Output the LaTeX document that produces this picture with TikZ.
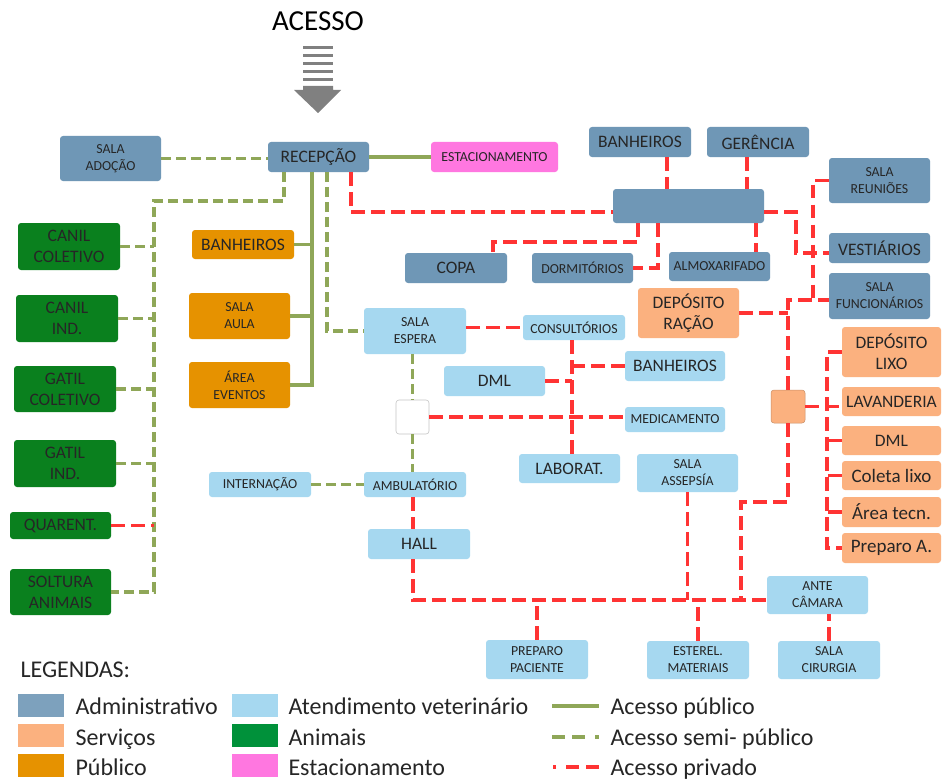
\documentclass[tikz,border=0pt]{standalone}
\usepackage{fontspec}
\setmainfont{Carlito}
\usetikzlibrary{calc}
\definecolor{cadm}{HTML}{6F97B6}
\definecolor{cser}{HTML}{FBB17F}
\definecolor{cpub}{HTML}{E69200}
\definecolor{cvet}{HTML}{A6D8F0}
\definecolor{cani}{HTML}{0A801E}
\definecolor{cani2}{HTML}{00913A}
\definecolor{cest}{HTML}{FF77E0}
\definecolor{lgreen}{HTML}{8FA758}
\definecolor{lred}{HTML}{FF3333}
\definecolor{txt}{HTML}{262626}
\definecolor{arrowgray}{HTML}{808080}
\newcommand{\bx}[7]{\node[#6, minimum width={(#4-#2)*1pt}, minimum height={(#5-#3)*1pt}] (#1) at ({(#2+#4)/2},{(#3+#5)/2}) {#7};}
\begin{document}
\begin{tikzpicture}[x=1pt,y=-1pt,
  box/.style={rounded corners=3pt, inner sep=0pt, align=center, text=txt, font=\fontsize{17.5}{21}\selectfont},
  sm/.style={font=\fontsize{13.8}{17}\selectfont},
  xl/.style={font=\fontsize{19}{22}\selectfont},
  adm/.style={box, fill=cadm},
  ser/.style={box, fill=cser},
  pubb/.style={box, fill=cpub},
  vet/.style={box, fill=cvet},
  ani/.style={box, fill=cani},
  est/.style={box, fill=cest},
  blankst/.style={box, fill=white, draw=gray!45, line width=0.6pt},
  sqst/.style={box, fill=cser, draw=cser!80!black, line width=0.5pt},
  pubL/.style={draw=lgreen, line width=3.3pt},
  semiL/.style={draw=lgreen, line width=3.3pt, dash pattern=on 10pt off 5pt},
  privL/.style={draw=lred, line width=3.8pt, dash pattern=on 13.5pt off 6.5pt},
  legtxt/.style={anchor=base west, text=txt, font=\fontsize{24}{28}\selectfont},
  swatch/.style={minimum width=46pt, minimum height=23pt, inner sep=0pt},
]
\fill[white] (0,0) rectangle (942,781);
\useasboundingbox (0,0) rectangle (942,781);

% title and arrow
\node[anchor=base, text=black, font=\fontsize{29}{33}\selectfont] (acesso) at (318,31) {ACESSO};
\foreach \yy in {46,54,62,70,78} \fill[arrowgray] (303,\yy) rectangle (333,\yy+3.3);
\fill[arrowgray] (303,86) -- (333,86) -- (333,90) -- (341,90) -- (318,113) -- (294,90) -- (303,90) -- cycle;

% nodes
\bx{adoc}{60}{136}{161}{181}{adm,sm}{SALA\\ADOÇÃO}
\bx{recep}{268}{142}{369}{172}{adm}{RECEPÇÃO}
\bx{estac}{431}{142}{558}{172}{est,sm}{ESTACIONAMENTO}
\bx{banadm}{589}{127}{691}{157}{adm}{BANHEIROS}
\bx{ger}{707}{127}{809}{157}{adm}{GERÊNCIA}
\bx{big}{613}{189}{764}{223}{adm}{}
\bx{reun}{829}{158}{930}{203}{adm,sm}{SALA\\REUNIÕES}
\bx{vest}{829}{233}{930}{263}{adm}{VESTIÁRIOS}
\bx{func}{829}{273}{930}{319}{adm,sm}{SALA\\FUNCIONÁRIOS}
\bx{copa}{405}{253}{507}{283}{adm}{COPA}
\bx{dorm}{532}{253}{633}{283}{adm,sm}{DORMITÓRIOS}
\bx{almox}{669}{252}{770}{281}{adm,sm}{ALMOXARIFADO}
\bx{racao}{638}{288}{739}{338}{ser}{DEPÓSITO\\RAÇÃO}
\bx{canilc}{18}{223}{120}{270}{ani}{CANIL\\COLETIVO}
\bx{canili}{16}{295}{118}{342}{ani}{CANIL\\IND.}
\bx{gatilc}{14}{366}{116}{412}{ani}{GATIL\\COLETIVO}
\bx{gatili}{14}{440}{116}{487}{ani}{GATIL\\IND.}
\bx{quar}{10}{512}{111}{539}{ani}{QUARENT.}
\bx{solt}{10}{569}{111}{615}{ani}{SOLTURA\\ANIMAIS}
\bx{banpub}{192}{230}{294}{259}{pubb}{BANHEIROS}
\bx{aula}{189}{293}{290}{339}{pubb,sm}{SALA\\AULA}
\bx{evt}{189}{362}{290}{408}{pubb,sm}{ÁREA\\EVENTOS}
\bx{espera}{364}{308}{466}{354}{vet,sm}{SALA\\ESPERA}
\bx{consult}{523}{315}{625}{340}{vet,sm}{CONSULTÓRIOS}
\bx{banvet}{625}{351}{725}{381}{vet}{BANHEIROS}
\bx{dmlvet}{444}{366}{545}{396}{vet}{DML}
\bx{blank}{396}{400}{429}{434}{blankst}{}
\bx{medic}{625}{407}{725}{432}{vet,sm}{MEDICAMENTO}
\bx{lab}{519}{454}{620}{483}{vet}{LABORAT.}
\bx{assep}{637}{454}{738}{492}{vet,sm}{SALA\\ASSEPSÍA}
\bx{intern}{209}{472}{311}{497}{vet,sm}{INTERNAÇÃO}
\bx{ambul}{364}{472}{466}{497}{vet,sm}{AMBULATÓRIO}
\bx{hall}{368}{529}{470}{559}{vet}{HALL}
\bx{ante}{767}{576}{868}{614}{vet,sm}{ANTE\\CÂMARA}
\bx{prep}{486}{640}{588}{679}{vet,sm}{PREPARO\\PACIENTE}
\bx{ester}{647}{641}{749}{679}{vet,sm}{ESTEREL.\\MATERIAIS}
\bx{cir}{778}{641}{880}{679}{vet,sm}{SALA\\CIRURGIA}
\bx{sq}{771}{390}{805}{423}{sqst}{}
\bx{lixo}{842}{327}{941}{377}{ser}{DEPÓSITO\\LIXO}
\bx{lav}{842}{387}{941}{416}{ser}{LAVANDERIA}
\bx{dmls}{842}{426}{941}{455}{ser}{DML}
\bx{coleta}{842}{461}{941}{490}{ser,xl}{Coleta lixo}
\bx{area}{842}{497}{941}{527}{ser,xl}{Área tecn.}
\bx{prepa}{842}{533}{941}{563}{ser,xl}{Preparo A.}

% reference coordinates
\coordinate (xg1) at (284,0);
\coordinate (xg2) at (312,0);
\coordinate (xg3) at (327,0);
\coordinate (xr1) at (351,0);
\coordinate (lb) at (154,201);
\coordinate (xc) at (572,0);
\coordinate (ycopa) at (0,242);
\coordinate (jv) at (796,0);
\coordinate (jf) at (813,300);
\coordinate (j2) at (741,502);
\coordinate (sb) at (827,0);
\coordinate (cb) at (413,600);
\coordinate (vw) at ([yshift=-5pt]vest.west);

% public access
\draw[pubL] (recep.east) -- (estac.west);
\draw[pubL] (recep.south -| xg2) |- (evt.east);
\draw[pubL] (banpub.east) -- (banpub.east -| xg2);
\draw[pubL] (aula.east) -- (aula.east -| xg2);

% semi-public access
\draw[semiL] (adoc.east) -- (adoc.east -| recep.west);
\draw[semiL] (recep.south -| xg1) |- (lb) |- (solt.east);
\foreach \n in {canilc,canili,gatilc,gatili} \draw[semiL] (\n.east) -- (\n.east -| lb);
\draw[semiL] (recep.south -| xg3) |- (espera.west);
\draw[semiL] (espera.south -| blank.north) -- (blank.north);
\draw[semiL] (blank.south) -- (blank.south |- ambul.north);
\draw[semiL] (intern.east) -- (ambul.west);

% private access
\draw[privL] (quar.east) -- (quar.east -| lb);
\draw[privL] (recep.south -| xr1) |- ([yshift=-6pt]big.west);
\draw[privL] ([xshift=27pt]banadm.south) -- ([xshift=27pt]banadm.south |- big.north);
\draw[privL] ([xshift=-11pt]ger.south) -- ([xshift=-11pt]ger.south |- big.north);
\draw[privL] ([xshift=-50.5pt]big.south) -- ([xshift=-50.5pt]big.south |- ycopa) -| ([xshift=37pt]copa.north);
\draw[privL] ([xshift=-30.5pt]big.south) |- (dorm.east);
\draw[privL] ([xshift=67.5pt]big.south) -- ([xshift=67.5pt]big.south |- almox.north);
\draw[privL] ([yshift=-6pt]big.east) -| (jv |- vw) -- (vw);
\draw[privL] (reun.west) -| (jf);
\draw[privL] (sq.north) |- (func.west |- jf);
\draw[privL] (racao.east) -- (racao.east -| sq.north);
\draw[privL] (sq.south) |- (j2) -- (j2 |- cb);
\draw[privL] (sq.east) -- (sq.east -| lav.west);
\draw[privL] (lixo.west) -- (lixo.west -| sb) -- (prepa.west -| sb) -- (prepa.west);
\foreach \n in {dmls,coleta,area} \draw[privL] (\n.west) -- (\n.west -| sb);
\draw[privL] (consult.west -| espera.east) -- (consult.west);
\draw[privL] (consult.south -| xc) -- (lab.north -| xc);
\draw[privL] (banvet.west) -- (banvet.west -| xc);
\draw[privL] (dmlvet.east) -- (dmlvet.east -| xc);
\draw[privL] (blank.east) -- (blank.east -| medic.west);
\draw[privL] (ambul.south -| cb) -- (hall.north -| cb);
\draw[privL] (hall.south -| cb) -- (cb) -- (cb -| ante.west);
\draw[privL] (prep.north) -- (prep.north |- cb);
\draw[privL] (assep.south) -- (assep.south |- cb);
\draw[privL] (ester.north) -- (ester.north |- cb);
\draw[privL] (cir.north) -- (cir.north |- ante.south);

% legend
\node[legtxt] (legt) at (17,677) {LEGENDAS:};
\node[swatch, fill=cadm!90!white] (s1) at (41,705.5) {};
\node[swatch, fill=cser] (s2) at (41,735.5) {};
\node[swatch, fill=cpub] (s3) at (41,765.5) {};
\node[swatch, fill=cvet] (s4) at (255,705.5) {};
\node[swatch, fill=cani2] (s5) at (255,735.5) {};
\node[swatch, fill=cest] (s6) at (255,765.5) {};
\node[legtxt] (t1) at (72,714) {Administrativo};
\node[legtxt] (t2) at (72,745) {Serviços};
\node[legtxt] (t3) at (72,775) {Público};
\node[legtxt] (t4) at (285,714) {Atendimento veterinário};
\node[legtxt] (t5) at (285,745) {Animais};
\node[legtxt] (t6) at (285,775) {Estacionamento};
\coordinate (l1a) at (552,706); \coordinate (l1b) at (599,706);
\coordinate (l2a) at (552,737); \coordinate (l2b) at (599,737);
\coordinate (l3a) at (599,767); \coordinate (l3b) at (552,767);
\draw[pubL] (l1a) -- (l1b);
\draw[semiL, dash pattern=on 13pt off 7pt on 13pt off 10pt on 4pt off 20pt] (l2a) -- (l2b);
\draw[privL, dash pattern=on 13pt off 7pt on 13pt off 10pt on 3pt off 20pt] (l3a) -- (l3b);
\node[legtxt] (t7) at (607,714) {Acesso público};
\node[legtxt] (t8) at (607,745) {Acesso semi- público};
\node[legtxt] (t9) at (607,775) {Acesso privado};
\end{tikzpicture}
\end{document}
